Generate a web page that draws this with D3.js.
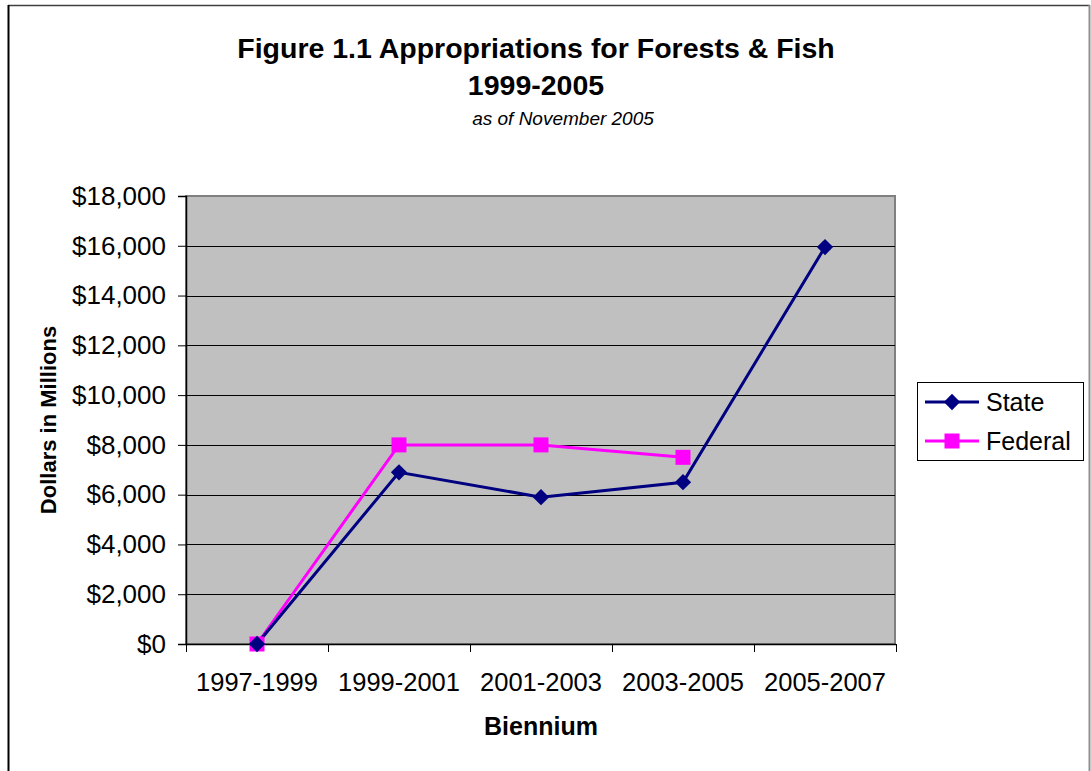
<!DOCTYPE html>
<html><head><meta charset="utf-8">
<script src="https://cdn.jsdelivr.net/npm/d3@7"></script>
<style>
html,body{margin:0;padding:0;background:#fff;}
svg{display:block;font-family:Arial,"Liberation Sans",sans-serif;}
</style></head>
<body>
<svg id="chart" width="1091" height="771"></svg>
<script>
const categories = ["1997-1999","1999-2001","2001-2003","2003-2005","2005-2007"];
const stateValues = [0, 6900, 5900, 6500, 15950];
const federalValues = [0, 8000, 8000, 7500, null];
const yTicks = [0,2000,4000,6000,8000,10000,12000,14000,16000,18000];
const seriesNames = ["State","Federal"];

const svg = d3.select("#chart");
const W = 1091, H = 771;
const plot = {l:186, r:895, t:196, b:644};

// outer chart border
svg.append("line").attr("x1",8).attr("x2",1090).attr("y1",5.5).attr("y2",5.5).attr("stroke","#404040").attr("stroke-width",1.5);
svg.append("line").attr("x1",8.5).attr("x2",8.5).attr("y1",5).attr("y2",H+5).attr("stroke","#000").attr("stroke-width",2);
svg.append("line").attr("x1",1089.5).attr("x2",1089.5).attr("y1",5).attr("y2",H+5).attr("stroke","#909090").attr("stroke-width",2);

const x = d3.scaleBand().domain(categories).range([plot.l, plot.r+1]).padding(0);
const y = d3.scaleLinear().domain([0,18000]).range([plot.b, plot.t]);

// plot area
svg.append("rect").attr("x",plot.l).attr("y",plot.t).attr("width",plot.r-plot.l).attr("height",plot.b-plot.t)
  .attr("fill","#c0c0c0").attr("stroke","#808080").attr("stroke-width",2);

// gridlines
svg.append("g").selectAll("line").data(yTicks.filter(v=>v>0 && v<18000)).join("line")
  .attr("x1",plot.l).attr("x2",plot.r).attr("y1",d=>Math.round(y(d))+0.5).attr("y2",d=>Math.round(y(d))+0.5)
  .attr("stroke","#000").attr("stroke-width",1);

// y axis
const yAxis = d3.axisLeft(y).tickValues(yTicks).tickSize(8).tickPadding(12)
  .tickFormat(d=>"$"+d3.format(",")(d));
const gy = svg.append("g").attr("transform",`translate(${plot.l},0)`).call(yAxis);
gy.select(".domain").attr("stroke","#000").attr("stroke-width",1.5);
gy.selectAll(".tick line").attr("stroke","#000");
gy.selectAll(".tick text").attr("font-size",26).attr("fill","#000").attr("font-family","Arial, 'Liberation Sans', sans-serif");

// x axis
const xAxis = d3.axisBottom(x).tickSize(0).tickPadding(0);
const gx = svg.append("g").attr("transform",`translate(0,${plot.b})`).call(xAxis);
gx.select(".domain").remove();
gx.selectAll(".tick text").attr("font-size",25.5).attr("fill","#000").attr("dy",0).attr("y",47)
  .attr("font-family","Arial, 'Liberation Sans', sans-serif");
// x tick marks at band boundaries
const bounds = categories.map(c=>x(c)).concat([x(categories[categories.length-1])+x.bandwidth()]);
svg.append("g").selectAll("line").data(bounds).join("line")
  .attr("x1",d=>Math.round(d)+0.5).attr("x2",d=>Math.round(d)+0.5).attr("y1",plot.b).attr("y2",plot.b+8)
  .attr("stroke","#000");
svg.append("line").attr("x1",plot.l).attr("x2",plot.r+1).attr("y1",plot.b+0.5).attr("y2",plot.b+0.5).attr("stroke","#000").attr("stroke-width",1.5);

// series
const cx = c => x(c) + x.bandwidth()/2;
const stateData = categories.map((c,i)=>({c, v:stateValues[i]}));
const fedData = categories.map((c,i)=>({c, v:federalValues[i]})).filter(d=>d.v!==null);
const line = d3.line().x(d=>cx(d.c)).y(d=>y(d.v));

svg.append("path").datum(fedData).attr("d",line).attr("fill","none").attr("stroke","#ff00ff").attr("stroke-width",3);
svg.append("path").datum(stateData).attr("d",line).attr("fill","none").attr("stroke","#000080").attr("stroke-width",3);

function drawDiamond(g, px, py){
  g.append("rect").attr("x",-5.75).attr("y",-5.75).attr("width",11.5).attr("height",11.5)
   .attr("transform",`translate(${px},${py}) rotate(45)`).attr("fill","#000080");
}
function drawSquare(g, px, py){
  g.append("rect").attr("x",px-7.5).attr("y",py-7.5).attr("width",15).attr("height",15).attr("fill","#ff00ff");
}
const gm = svg.append("g");
fedData.forEach(d=>drawSquare(gm, cx(d.c), y(d.v)));
stateData.forEach(d=>drawDiamond(gm, cx(d.c), y(d.v)));

// titles
svg.append("text").attr("x",536).attr("y",58).attr("text-anchor","middle").attr("font-size",28.5).attr("font-weight","bold")
  .text("Figure 1.1 Appropriations for Forests & Fish");
svg.append("text").attr("x",536).attr("y",95).attr("text-anchor","middle").attr("font-size",28.5).attr("font-weight","bold")
  .text("1999-2005");
svg.append("text").attr("x",563).attr("y",125).attr("text-anchor","middle").attr("font-size",19).attr("font-style","italic")
  .text("as of November 2005");
svg.append("text").attr("x",541).attr("y",735).attr("text-anchor","middle").attr("font-size",25).attr("font-weight","bold")
  .text("Biennium");
svg.append("text").attr("transform","translate(56,420) rotate(-90)").attr("text-anchor","middle").attr("font-size",22).attr("font-weight","bold")
  .text("Dollars in Millions");

// legend
const lg = svg.append("g");
lg.append("rect").attr("x",917.5).attr("y",382.5).attr("width",166).attr("height",78).attr("fill","#fff").attr("stroke","#000").attr("stroke-width",1);
const legendY = [402, 441];
const legendColors = ["#000080","#ff00ff"];
seriesNames.forEach((n,i)=>{
  lg.append("line").attr("x1",925).attr("x2",979).attr("y1",legendY[i]).attr("y2",legendY[i]).attr("stroke",legendColors[i]).attr("stroke-width",3);
  if(i===0) drawDiamond(lg, 952, legendY[i]); else drawSquare(lg, 952, legendY[i]);
  lg.append("text").attr("x",986).attr("y",legendY[i]+9).attr("font-size",25).text(n);
});
</script>
</body></html>
